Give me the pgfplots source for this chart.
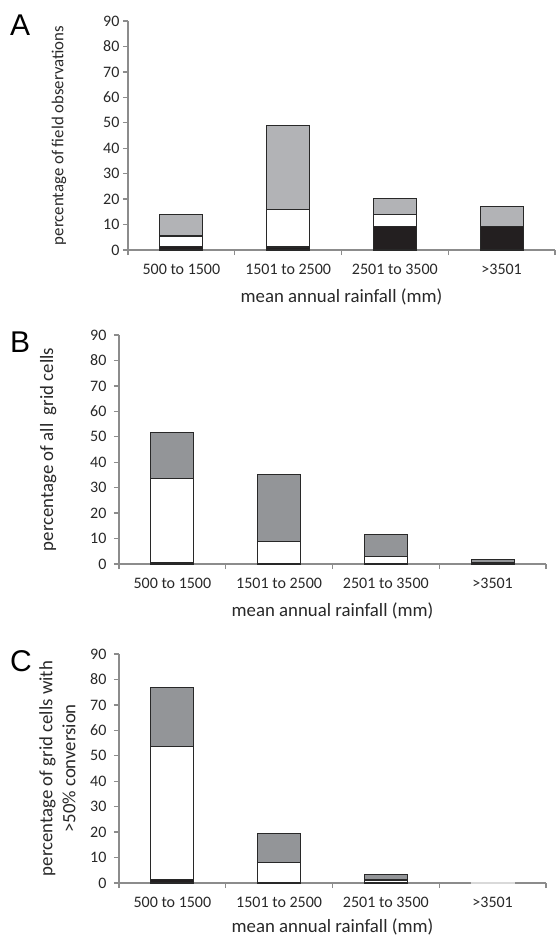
\documentclass[border=0pt]{standalone}
\usepackage{fontspec}
\setmainfont{Carlito}
\newfontfamily\letterfont{Liberation Sans}
\usepackage{pgfplots}
\pgfplotsset{compat=1.18}
\definecolor{axgray}{RGB}{140,140,140}
\definecolor{litegray}{RGB}{178,179,182}
\definecolor{midgray}{RGB}{147,149,152}
\definecolor{barblack}{RGB}{35,31,32}
\definecolor{edge}{RGB}{40,40,40}
\definecolor{txt}{RGB}{40,40,40}
\newcommand\tickfont{\fontsize{16}{19}\selectfont}

\pgfplotsset{
  panel/.style={
    scale only axis, width=427pt, height=229pt,
    anchor=south west,
    xmin=-0.5, xmax=3.5, ymin=0, ymax=90,
    axis x line*=bottom, axis y line*=left,
    axis line style={axgray, line width=1.3pt},
    tick style={axgray, line width=1.3pt},
    tick align=outside, major tick length=5pt,
    ytick={0,10,...,90},
    xtick={-0.5,0.5,1.5,2.5,3.5},
    xticklabels={,,,,},
    extra x ticks={0,1,2,3},
    extra x tick labels={500 to 1500,1501 to 2500,2501 to 3500,>3501},
    extra x tick style={tick style={draw=none},
      xticklabel style={font=\tickfont, text=txt, yshift=-6pt}},
    xticklabel style={font=\tickfont, text=txt},
    yticklabel style={font=\tickfont, text=txt},
    /pgf/number format/assume math mode=true,
    label style={font=\fontsize{18.8}{23}\selectfont, text=txt},
    xlabel={mean annual rainfall (mm)},
    xlabel style={at={(axis description cs:0.5,0)}, anchor=center, yshift=-47pt},
    bar width=43pt,
    ybar, bar shift=0pt,
    clip=false,
  },
  seg/.style={draw=edge, line width=1.1pt, fill=#1},
}

\begin{document}
\begin{tikzpicture}
\useasboundingbox (0,0) rectangle (556pt,-938pt);

% A
\begin{axis}[panel, at={(128pt,-250pt)},
  ylabel={percentage of field observations},
  ylabel style={at={(axis description cs:-0.1616,0.5)}, anchor=center,
    font=\fontsize{16.8}{20}\selectfont}]
\addplot[seg=litegray] coordinates {(0,13.8) (1,48.9) (2,20.3) (3,17.0)};
\addplot[seg=white] coordinates {(0,5.5) (1,15.9) (2,13.8)};
\addplot[seg=barblack] coordinates {(0,1.5) (1,1.2) (2,9.2) (3,9.3)};
\end{axis}

% B
\begin{axis}[panel, at={(119pt,-564pt)},
  yticklabel style={xshift=-4pt},
  ylabel={percentage of all\ \ grid cells},
  ylabel style={at={(axis description cs:-0.166,0.5)}, anchor=center}]
\addplot[seg=midgray] coordinates {(0,51.7) (1,35.1) (2,11.5) (3,1.8)};
\addplot[seg=white] coordinates {(0,33.7) (1,9.0) (2,3.0) (3,0.6)};
\addplot[seg=barblack] coordinates {(0,0.6)};
\end{axis}

% C
\begin{axis}[panel, at={(119pt,-883pt)},
  yticklabel style={xshift=-4pt},
  xlabel style={yshift=3pt},
  ylabel={percentage of grid cells with\\>50\% conversion},
  ylabel style={at={(axis description cs:-0.144,0.5)}, anchor=center, align=center}]
\addplot[seg=midgray] coordinates {(0,76.7) (1,19.6) (2,3.5)};
\addplot[seg=white] coordinates {(0,53.7) (1,8.1) (2,1.2)};
\addplot[seg=barblack] coordinates {(0,1.3)};
\addplot[draw=black!15, line width=0.8pt, fill=black!10] coordinates {(3,0.3)};
\end{axis}

\node[font=\letterfont\fontsize{30}{30}\selectfont, anchor=north west, inner sep=0pt] at (10pt,-15pt) {A};
\node[font=\letterfont\fontsize{30}{30}\selectfont, anchor=north west, inner sep=0pt] at (10pt,-332pt) {B};
\node[font=\letterfont\fontsize{30}{30}\selectfont, anchor=north west, inner sep=0pt] at (10pt,-650pt) {C};
\end{tikzpicture}
\end{document}
